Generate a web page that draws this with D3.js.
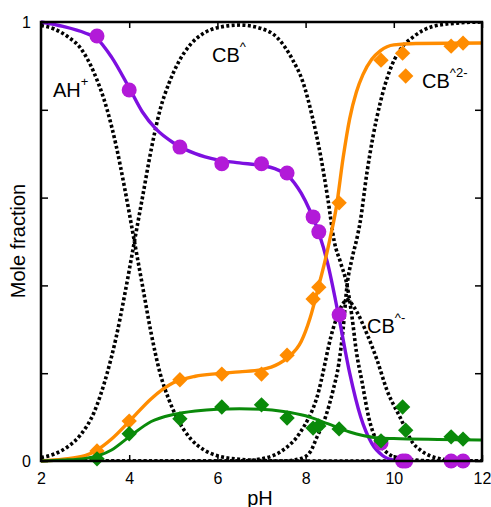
<!DOCTYPE html>
<html><head><meta charset="utf-8">
<script src="https://cdn.jsdelivr.net/npm/d3@7"></script>
<style>
html,body{margin:0;padding:0;background:#fff;}
svg{display:block;font-family:"Liberation Sans",Arial,Helvetica,sans-serif;}
</style></head><body>
<svg id="c" width="491" height="507"></svg>
<script>
// ---- data ----
const xTicks = [2, 4, 6, 8, 10, 12];
const yTicks = [0, 0.2, 0.4, 0.6, 0.8, 1];
const yTickLabels = ["0", "", "", "", "", "1"];

// measured points (shared pH)
const pHData = [3.27, 4.0, 5.15, 6.1, 7.0, 7.58, 8.17, 8.3, 8.76, 9.71, 10.2, 10.27, 11.3, 11.57];
const purpleData = [0.968, 0.845, 0.715, 0.677, 0.677, 0.656, 0.556, 0.522, 0.333, 0.041, 0, 0, 0, 0];
const orangeData = [0.023, 0.091, 0.185, 0.198, 0.198, 0.241, 0.369, 0.396, 0.588, 0.913, 0.929, 0.877, 0.945, 0.952];
const greenData  = [0.005, 0.062, 0.096, 0.123, 0.128, 0.098, 0.075, 0.08, 0.073, 0.046, 0.123, 0.07, 0.055, 0.05];

// fitted curves
const purpleFitPH = [2, 2.5, 3, 3.27, 3.6, 4, 4.3, 4.6, 5, 5.5, 6, 6.5, 7, 7.3, 7.6, 7.9, 8.1, 8.3, 8.5, 8.75, 9, 9.25, 9.5, 9.75, 10, 10.2];
const purpleFit   = [1, 0.99, 0.975, 0.962, 0.92, 0.85, 0.795, 0.757, 0.725, 0.70, 0.686, 0.679, 0.673, 0.666, 0.65, 0.61, 0.57, 0.52, 0.45, 0.33, 0.2, 0.1, 0.04, 0.012, 0.002, 0];
const orangeFitPH = [2, 2.5, 3, 3.27, 3.6, 4, 4.5, 5, 5.5, 6, 6.5, 7, 7.4, 7.6, 7.9, 8.1, 8.3, 8.45, 8.55, 8.7, 8.85, 9, 9.15, 9.3, 9.5, 9.7, 10, 10.5, 12];
const orangeFit   = [0, 0.004, 0.012, 0.025, 0.05, 0.09, 0.142, 0.178, 0.193, 0.199, 0.203, 0.208, 0.222, 0.236, 0.272, 0.325, 0.40, 0.46, 0.505, 0.58, 0.69, 0.78, 0.84, 0.88, 0.915, 0.935, 0.948, 0.951, 0.952];
const greenFitPH = [2, 2.5, 3, 3.3, 3.6, 4, 4.5, 5, 5.5, 6, 6.5, 7, 7.5, 8, 8.5, 9, 9.3, 9.6, 10, 11, 12];
const greenFit   = [0, 0.002, 0.006, 0.012, 0.025, 0.055, 0.09, 0.106, 0.114, 0.118, 0.119, 0.118, 0.113, 0.103, 0.085, 0.066, 0.058, 0.053, 0.051, 0.049, 0.048];

// species distribution curves (dotted)
const ahPH = [2, 2.3, 2.6, 2.9, 3.2, 3.5, 3.7, 3.9, 4.1, 4.3, 4.5, 4.7, 4.9, 5.1, 5.4, 5.7, 6, 6.5, 7, 7.5, 12];
const ahV  = [0.992, 0.984, 0.967, 0.94, 0.885, 0.80, 0.72, 0.62, 0.51, 0.40, 0.29, 0.20, 0.14, 0.095, 0.05, 0.025, 0.012, 0.004, 0.001, 0, 0];
const cbPH = [2, 2.3, 2.6, 2.9, 3.2, 3.5, 3.7, 3.9, 4.1, 4.3, 4.5, 4.7, 4.9, 5.1, 5.4, 5.7, 6, 6.5, 7, 7.35, 7.7, 7.95, 8.15, 8.35, 8.5, 8.65, 8.8, 8.94, 9.05, 9.15, 9.28, 9.43, 9.6, 9.78, 10, 10.5, 11, 12];
const cbV  = [0.008, 0.016, 0.032, 0.06, 0.11, 0.20, 0.28, 0.38, 0.49, 0.60, 0.71, 0.80, 0.86, 0.905, 0.95, 0.975, 0.987, 0.993, 0.985, 0.965, 0.915, 0.86, 0.785, 0.69, 0.60, 0.50, 0.45, 0.40, 0.33, 0.25, 0.18, 0.10, 0.048, 0.025, 0.01, 0.002, 0, 0];
const cbmPH = [2, 6.5, 7, 7.49, 7.87, 8.26, 8.62, 8.8, 8.95, 9.1, 9.39, 9.62, 9.85, 10.14, 10.44, 10.6, 11.05, 11.5, 12];
const cbmV  = [0, 0, 0.005, 0.025, 0.064, 0.146, 0.30, 0.35, 0.367, 0.35, 0.29, 0.23, 0.16, 0.10, 0.04, 0.025, 0.005, 0, 0];
const cb2PH = [2, 7.5, 7.87, 8.1, 8.26, 8.45, 8.62, 8.75, 8.85, 8.94, 9.05, 9.17, 9.23, 9.39, 9.53, 9.69, 9.91, 10.14, 10.44, 10.89, 11.5, 12];
const cb2V  = [0, 0, 0.005, 0.02, 0.055, 0.10, 0.16, 0.22, 0.30, 0.40, 0.46, 0.51, 0.54, 0.656, 0.74, 0.815, 0.89, 0.936, 0.966, 0.99, 0.998, 1];

// ---- drawing ----
const svg = d3.select("#c");
const x = d3.scaleLinear().domain([2, 12]).range([41, 482]);
const y = d3.scaleLinear().domain([0, 1]).range([461, 22]);
const zip = (a, b) => a.map((v, i) => [v, b[i]]);
const line = d3.line().x(d => x(d[0])).y(d => y(d[1])).curve(d3.curveMonotoneX);

svg.append("clipPath").attr("id", "pa").append("rect")
  .attr("x", x(2)).attr("y", y(1)).attr("width", x(12) - x(2)).attr("height", y(0) - y(1));

const plot = svg.append("g").attr("clip-path", "url(#pa)");

// dotted species curves
[[ahPH, ahV], [cbPH, cbV], [cbmPH, cbmV], [cb2PH, cb2V]].forEach(([px, pv]) => {
  plot.append("path").datum(zip(px, pv)).attr("d", line)
    .attr("fill", "none").attr("stroke", "#000").attr("stroke-width", 3.6)
    .attr("stroke-dasharray", "3,2.4");
});

const purpleLine = "#7d0fe0", purpleDot = "#b21ad8";
const orange = "#ff8c00", green = "#0a8a0a";

svg.append("path").datum(zip(purpleFitPH, purpleFit)).attr("d", line)
  .attr("fill", "none").attr("stroke", purpleLine).attr("stroke-width", 3.4);
svg.append("g").selectAll("circle").data(zip(pHData, purpleData)).join("circle")
  .attr("cx", d => x(d[0])).attr("cy", d => y(d[1])).attr("r", 7.5).attr("fill", purpleDot);

const diamond = d3.symbol().type(d3.symbolDiamond2).size(150);
svg.append("path").datum(zip(orangeFitPH, orangeFit)).attr("d", line)
  .attr("fill", "none").attr("stroke", orange).attr("stroke-width", 3.4);
svg.append("g").selectAll("path").data(zip(pHData, orangeData)).join("path")
  .attr("d", diamond).attr("transform", d => `translate(${x(d[0])},${y(d[1])})`).attr("fill", orange);

svg.append("path").datum(zip(greenFitPH, greenFit)).attr("d", line)
  .attr("fill", "none").attr("stroke", green).attr("stroke-width", 3);
svg.append("g").selectAll("path").data(zip(pHData, greenData)).join("path")
  .attr("d", diamond).attr("transform", d => `translate(${x(d[0])},${y(d[1])})`).attr("fill", green);

// axes
const fmtY = d => yTickLabels[yTicks.indexOf(d)];
const gBottom = svg.append("g").attr("transform", `translate(0,${y(0)})`)
  .call(d3.axisBottom(x).tickValues(xTicks).tickSizeInner(-6).tickSizeOuter(0).tickPadding(12));
const gTop = svg.append("g").attr("transform", `translate(0,${y(1)})`)
  .call(d3.axisTop(x).tickValues(xTicks).tickSizeInner(-6).tickSizeOuter(0).tickFormat(""));
const gLeft = svg.append("g").attr("transform", `translate(${x(2)},0)`)
  .call(d3.axisLeft(y).tickValues(yTicks).tickSizeInner(-7).tickSizeOuter(0).tickPadding(10).tickFormat(fmtY));
const gRight = svg.append("g").attr("transform", `translate(${x(12)},0)`)
  .call(d3.axisRight(y).tickValues(yTicks).tickSizeInner(-7).tickSizeOuter(0).tickFormat(""));
[gBottom, gTop, gLeft, gRight].forEach(g => {
  g.select(".domain").remove();
  g.selectAll("line").attr("stroke", "#000").attr("stroke-width", 1.5);
  g.selectAll("text").attr("font-size", 16).attr("fill", "#000")
    .attr("font-family", "Liberation Sans, Arial, sans-serif");
});
svg.append("rect").attr("x", x(2)).attr("y", y(1)).attr("width", x(12) - x(2)).attr("height", y(0) - y(1))
  .attr("fill", "none").attr("stroke", "#000").attr("stroke-width", 2.5);

// axis titles
svg.append("text").attr("x", 260).attr("y", 505).attr("text-anchor", "middle")
  .attr("font-size", 20).text("pH");
svg.append("text").attr("transform", "translate(25,241) rotate(-90)").attr("text-anchor", "middle")
  .attr("font-size", 20).text("Mole fraction");

// species labels
function label(xp, yp, main, sup) {
  const t = svg.append("text").attr("x", xp).attr("y", yp).attr("font-size", 20);
  t.append("tspan").text(main);
  t.append("tspan").attr("font-size", 13).attr("dy", -11).text(sup);
}
label(53, 97, "AH", "+");
label(212, 62, "CB", "^");
label(422, 88, "CB", "^2-");
label(367, 333, "CB", "^-");
</script>
</body></html>
